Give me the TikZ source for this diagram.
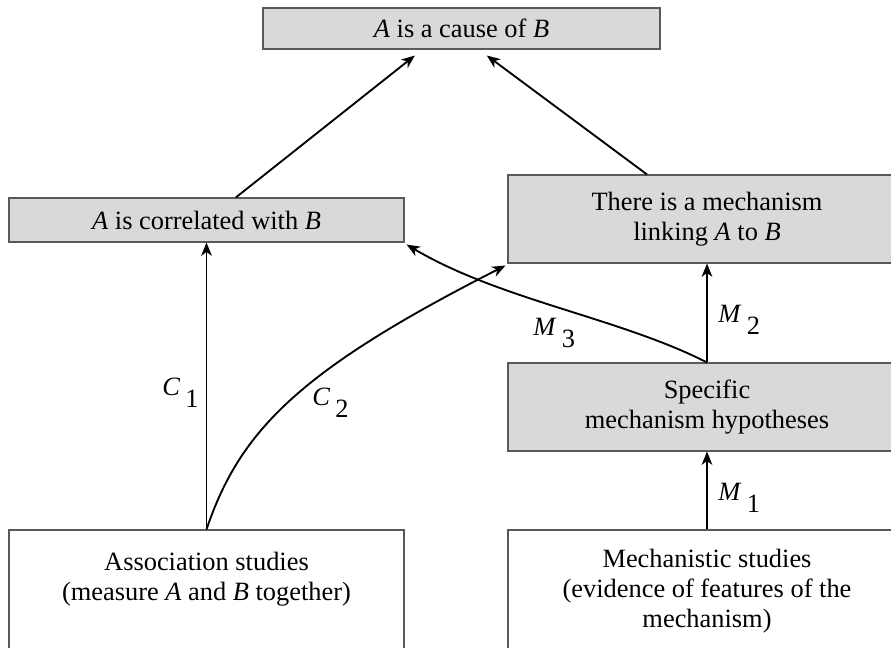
\documentclass[tikz,border=0pt]{standalone}
\usepackage{fontspec}
\setmainfont{Liberation Serif}
\usetikzlibrary{arrows.meta,calc}
\begin{document}
\begin{tikzpicture}[x=0.75pt,y=-0.75pt,
  box/.style={draw=black!65,line width=0.8pt,align=center,inner sep=0pt,
    font=\fontsize{19.8}{22.5}\selectfont},
  grey/.style={box,fill=black!15},
  white/.style={box,fill=white},
  conn/.style={line width=1.4pt,-{Stealth[length=10pt,width=8pt,inset=3pt]}},
  lab/.style={anchor=base west,inner sep=0pt,font=\fontsize{19.8}{22.5}\selectfont}]
\useasboundingbox[clip] (0,0) rectangle (891,648);
\node[grey,minimum width=397*0.75pt,minimum height=41*0.75pt] (top) at (461.5,28.5)
  {\textit{A} is a cause of \textit{B}};
\node[grey,minimum width=395*0.75pt,minimum height=44*0.75pt] (corr) at (206.5,220)
  {\textit{A} is correlated with \textit{B}};
\node[grey,minimum width=398*0.75pt,minimum height=88*0.75pt] (mech) at (707,219)
  {There is a mechanism\\linking \textit{A} to \textit{B}};
\node[grey,minimum width=398*0.75pt,minimum height=88*0.75pt] (spec) at (707,407)
  {Specific\\mechanism hypotheses};
\node[white,minimum width=395*0.75pt,minimum height=122*0.75pt] (assoc) at (206.5,591)
  {Association studies\\(measure \textit{A} and \textit{B} together)\\\mbox{}};
\node[white,minimum width=398*0.75pt,minimum height=122*0.75pt] (mstud) at (707,591)
  {Mechanistic studies\\(evidence of features of the\\mechanism)};
% connectors
\draw[conn] ([xshift=22pt]corr.north) -- ([xshift=-35pt,yshift=-4.5pt]top.south);
\draw[conn] ([xshift=-45pt]mech.north) -- ([xshift=19pt,yshift=-4.5pt]top.south);
\draw[conn] (assoc.north) -- (corr.south);
\draw[conn] (assoc.north) .. controls (240,430) and (300,370) .. ([xshift=-1.5pt,yshift=-1.5pt]mech.south west);
\draw[conn] (spec.north) .. controls (620,318) and (500,300) .. ([xshift=1.5pt,yshift=-1.5pt]corr.south east);
\draw[conn] (spec.north) -- (mech.south);
\draw[conn] (mstud.north) -- (spec.south);
% labels
\node[lab] (c1) at (162,395) {\textit{C}\hspace{4pt}\raisebox{-9pt}{1}};
\node[lab] (c2) at (312,405) {\textit{C}\hspace{4pt}\raisebox{-9pt}{2}};
\node[lab] (m3) at (533,335) {\textit{M}\hspace{4pt}\raisebox{-9pt}{3}};
\node[lab] (m2) at (718,322) {\textit{M}\hspace{4pt}\raisebox{-9pt}{2}};
\node[lab] (m1) at (718,500) {\textit{M}\hspace{4pt}\raisebox{-9pt}{1}};
\end{tikzpicture}
\end{document}
